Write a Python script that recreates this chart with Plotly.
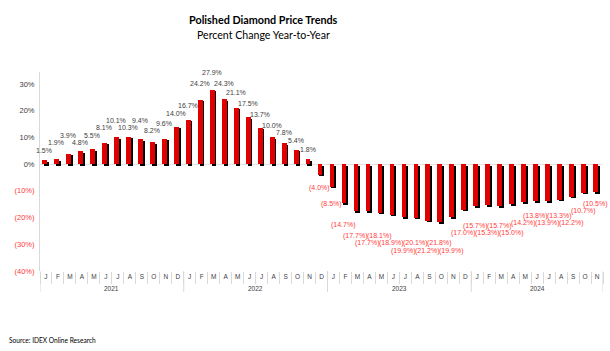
import plotly.graph_objects as go

# ---------------- data ----------------
years = ["2021", "2022", "2023", "2024"]
month_initials = ["J", "F", "M", "A", "M", "J", "J", "A", "S", "O", "N", "D"]
values_2021 = [1.5, 1.9, 3.9, 4.8, 5.5, 8.1, 10.1, 10.3, 9.4, 8.2, 9.6, 14.0]
values_2022 = [16.7, 24.2, 27.9, 24.3, 21.1, 17.5, 13.7, 10.0, 7.8, 5.4, 1.8, -4.0]
values_2023 = [-8.5, -14.7, -17.7, -17.7, -18.1, -18.9, -19.9, -20.1, -21.2, -21.8, -19.9, -17.0]
values_2024 = [-15.7, -15.3, -15.7, -15.0, -14.2, -13.8, -13.9, -13.3, -12.2, -10.7, -10.5]
y_tick_values = [30, 20, 10, 0, -10, -20, -30, -40]

series_by_year = [values_2021, values_2022, values_2023, values_2024]

# ---------------- styling ----------------
RED = "#E00000"
NEG_TEXT = "#FF3B3B"
POS_TEXT = "#404040"
AXIS_GRAY = "#D9D9D9"
FONT = "Liberation Sans, Arial, sans-serif"
TITLE_FONT = "Lato, Open Sans, sans-serif"

W, H = 610, 351
M_L, M_R, M_T, M_B = 40, 7, 72, 80
Y_RANGE = [-40, 34.5]
PLOT_W = W - M_L - M_R
PLOT_H = H - M_T - M_B
PX_PER_UNIT = PLOT_H / (Y_RANGE[1] - Y_RANGE[0])

categories, tick_text, values = [], [], []
for year, vals in zip(years, series_by_year):
    for m, v in enumerate(vals):
        categories.append(f"{year}-{m + 1:02d}")
        tick_text.append(month_initials[m])
        values.append(v)


def fmt(v):
    return f"{v:.1f}%" if v >= 0 else f"({abs(v):.1f}%)"


def fmt_tick(v):
    if v < 0:
        return f'<span style="color:{NEG_TEXT}">({abs(v)}%)</span>'
    return f"{v}%"


fig = go.Figure()

# shadow bars (dark, shifted right and down)
fig.add_trace(go.Bar(
    x=categories, y=values, base=[-0.6] * len(values),
    offset=-0.17, width=0.4,
    marker=dict(color="#000000", line=dict(width=0)),
    hoverinfo="skip", showlegend=False,
))
# red bars
fig.add_trace(go.Bar(
    x=categories, y=values,
    offset=-0.32, width=0.4,
    marker=dict(color=RED, line=dict(width=0)),
    showlegend=False,
))

annotations = []

# data labels: pushed outward (like the 3-D chart's projected labels) and
# staggered so neighbouring labels do not collide
GAP = 4.0                      # px beyond the projected bar end
SCALE = {1: 1.1, -1: 1.3}      # outward projection for positive / negative labels
SEP = 7.5                      # min vertical separation of neighbouring labels (px)
prev_p, prev_sign = None, None
for c, v in zip(categories, values):
    sign = 1 if v >= 0 else -1
    end = abs(v) * PX_PER_UNIT
    p = end * SCALE[sign] + GAP
    if prev_sign == sign and abs(p - prev_p) < SEP:
        if p < prev_p and prev_p - SEP >= end + 2:
            p = prev_p - SEP
        else:
            p = prev_p + SEP
    prev_p, prev_sign = p, sign
    annotations.append(dict(
        x=c, y=v, xref="x", yref="y", text=fmt(v), showarrow=False,
        yanchor="bottom" if sign > 0 else "top",
        yshift=sign * (p - end),
        xshift=-2,
        font=dict(family=FONT, size=7, color=POS_TEXT if sign > 0 else NEG_TEXT),
    ))

# year group labels and dividers
start = 0
for year, vals in zip(years, series_by_year):
    end_i = start + len(vals) - 1
    annotations.append(dict(
        x=(start + end_i) / 2, y=-(288 - (H - M_B)) / PLOT_H, xref="x", yref="paper",
        text=year, showarrow=False, yanchor="middle",
        font=dict(family=FONT, size=6.5, color="#404040"),
    ))
    start = end_i + 1

shapes = []
boundary = -0.5
for vals in [[]] + series_by_year:
    boundary += len(vals)
    shapes.append(dict(
        type="line", xref="x", yref="paper", x0=boundary, x1=boundary,
        y0=0, y1=-21 / PLOT_H, line=dict(color=AXIS_GRAY, width=1),
    ))


# titles and source (positioned in pixels of the page)
def px_x(px):
    return (px - M_L) / PLOT_W


def px_y(py):
    return (H - M_B - py) / PLOT_H


annotations += [
    dict(text="<b>Polished Diamond Price Trends</b>", x=px_x(263), y=px_y(20),
         xref="paper", yref="paper", showarrow=False, xanchor="center", yanchor="middle",
         font=dict(family=TITLE_FONT, size=10.8, color="#000000")),
    dict(text="Percent Change Year-to-Year", x=px_x(263), y=px_y(35),
         xref="paper", yref="paper", showarrow=False, xanchor="center", yanchor="middle",
         font=dict(family=TITLE_FONT, size=10.6, color="#000000")),
    dict(text="Source: IDEX Online Research", x=px_x(7), y=px_y(340),
         xref="paper", yref="paper", showarrow=False, xanchor="left", yanchor="middle",
         font=dict(family=TITLE_FONT, size=6.6, color="#000000")),
]

fig.update_layout(
    width=W, height=H,
    margin=dict(l=M_L, r=M_R, t=M_T, b=M_B),
    paper_bgcolor="white", plot_bgcolor="white",
    barmode="overlay", bargap=0,
    showlegend=False,
    annotations=annotations,
    shapes=shapes,
    font=dict(family=FONT),
)

fig.update_xaxes(
    type="category",
    categoryorder="array", categoryarray=categories,
    tickmode="array", tickvals=categories, ticktext=tick_text,
    tickson="boundaries", ticks="outside", ticklen=12, tickcolor=AXIS_GRAY,
    ticklabelstandoff=0,
    tickfont=dict(family=FONT, size=6.5, color="#404040"),
    showline=False, showgrid=False, zeroline=False,
    range=[-0.5, len(categories) - 0.5],
    tickangle=0,
)
fig.update_yaxes(
    range=Y_RANGE,
    tickmode="array", tickvals=y_tick_values,
    ticktext=[fmt_tick(v) for v in y_tick_values],
    tickfont=dict(family=FONT, size=7.5, color="#404040"),
    showgrid=False, zeroline=True, zerolinecolor="#E3E3E3", zerolinewidth=1,
    showline=True, linecolor=AXIS_GRAY, linewidth=1,
    ticks="", ticklabelstandoff=3,
)

fig.write_html("out.html")
